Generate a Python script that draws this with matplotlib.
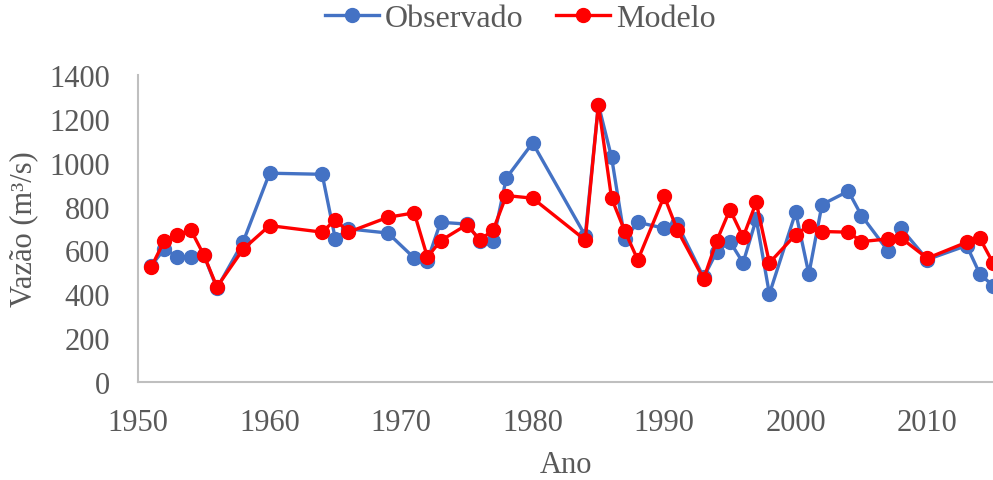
import matplotlib.pyplot as plt

# ---- data ----
years_obs = [1951, 1952, 1953, 1954, 1955, 1956, 1958, 1960, 1964, 1965, 1966, 1969, 1971, 1972,
             1973, 1975, 1976, 1977, 1978, 1980, 1984, 1985, 1986, 1987, 1988, 1990, 1991, 1993,
             1994, 1995, 1996, 1997, 1998, 2000, 2001, 2002, 2004, 2005, 2007, 2008, 2010, 2013,
             2014, 2015]
observado = [530, 606, 571, 571, 579, 427, 640, 952, 947, 652, 698, 679, 565, 553,
             728, 720, 644, 644, 930, 1090, 667, 1265, 1025, 652, 728, 701, 720, 477,
             594, 640, 543, 743, 401, 774, 492, 809, 870, 759, 599, 701, 558, 622,
             492, 439]
modelo = [523, 644, 670, 695, 579, 433, 606, 713, 683, 740, 683, 751, 771, 569,
          644, 717, 647, 693, 850, 838, 647, 1265, 838, 689, 556, 847, 693, 470,
          644, 786, 660, 819, 543, 672, 713, 686, 683, 640, 652, 657, 564, 637,
          655, 543]
x_ticks = [1950, 1960, 1970, 1980, 1990, 2000, 2010]
y_ticks = [0, 200, 400, 600, 800, 1000, 1200, 1400]

plt.rcParams['font.family'] = ['Liberation Serif', 'DejaVu Serif']
txt = '#595959'

fig = plt.figure(figsize=(9.93, 4.81), dpi=100)
ax = fig.add_axes([0.139, 0.204, 0.861, 0.638])

ax.plot(years_obs, observado, color='#4472C4', lw=2.4, marker='o', ms=10,
        label='Observado', zorder=3)
ax.plot(years_obs, modelo, color='#FF0000', lw=2.4, marker='o', ms=10,
        label='Modelo', zorder=4)

ax.set_xlim(1950, 2015)
ax.set_ylim(0, 1400)
ax.set_xticks(x_ticks)
ax.set_yticks(y_ticks)
ax.tick_params(length=0, labelsize=22, colors=txt)
ax.tick_params(axis='y', pad=20)
ax.tick_params(axis='x', pad=19)

for s in ['top', 'right']:
    ax.spines[s].set_visible(False)
for s in ['left', 'bottom']:
    ax.spines[s].set_color('#BFBFBF')
    ax.spines[s].set_linewidth(1.5)

ax.set_xlabel('Ano', fontsize=22, color=txt, labelpad=9)
ax.set_ylabel('Vazão (m³/s)', fontsize=22, color=txt, labelpad=6)
ax.yaxis.set_label_coords(-0.117, 0.5)

fig.legend(loc='upper center', bbox_to_anchor=(0.524, 1.05), ncol=2, frameon=False,
           fontsize=23, labelcolor=txt, handlelength=1.7, handletextpad=0.2,
           columnspacing=1.0)

fig.savefig('out.png', dpi=100)
